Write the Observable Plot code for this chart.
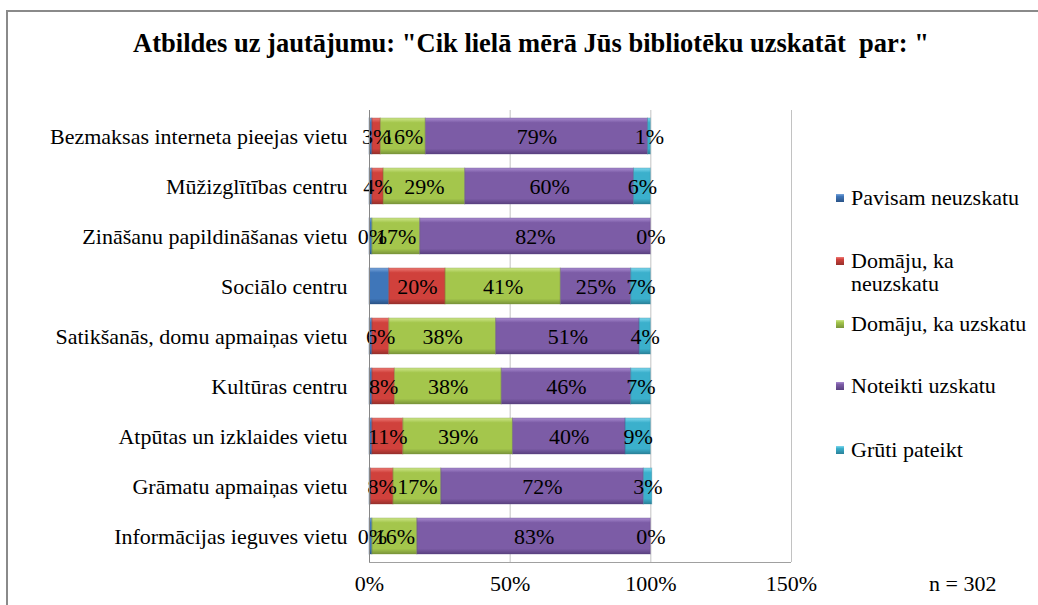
<!DOCTYPE html>
<html>
<head>
<meta charset="utf-8">
<script src="https://cdn.jsdelivr.net/npm/d3@7"></script>
<script src="https://cdn.jsdelivr.net/npm/@observablehq/plot@0.6"></script>
<style>
  html, body { margin: 0; padding: 0; background: #fff; overflow: hidden; width: 1038px; height: 605px; }
  body { font-family: "Liberation Serif", "Times New Roman", serif; color: #000; position: relative; }
  #frame { position: absolute; left: 6px; top: 10px; width: 1200px; height: 800px;
           border-top: 2px solid #8a8a8a; border-left: 2px solid #8a8a8a; }
  #title { position: absolute; left: 0; width: 1062px; top: 27px; text-align: center;
           font-size: 26.5px; line-height: 32px; font-weight: bold; white-space: pre; }
  #chart { position: absolute; left: 0; top: 80px; }
  #legend { position: absolute; left: 836px; top: 0; }
  .li { position: absolute; left: 0; width: 202px; font-size: 22px; line-height: 23px; }
  .sw { position: absolute; left: 0; top: 8px; width: 8px; height: 8px; }
  .lt { position: absolute; left: 15px; width: 187px; }
  #n { position: absolute; left: 929px; top: 572px; font-size: 22px; line-height: 24px; }
</style>
</head>
<body>
<div id="frame"></div>
<div id="title">Atbildes uz jautājumu: "Cik lielā mērā Jūs bibliotēku uzskatāt  par: "</div>
<div id="chart"></div>
<div id="legend"></div>
<div id="n">n = 302</div>
<script>
const categories = [
  "Bezmaksas interneta pieejas vietu",
  "Mūžizglītības centru",
  "Zināšanu papildināšanas vietu",
  "Sociālo centru",
  "Satikšanās, domu apmaiņas vietu",
  "Kultūras centru",
  "Atpūtas un izklaides vietu",
  "Grāmatu apmaiņas vietu",
  "Informācijas ieguves vietu"
];
const seriesNames = ["Pavisam neuzskatu", "Domāju, ka neuzskatu", "Domāju, ka uzskatu", "Noteikti uzskatu", "Grūti pateikt"];
const pavisamNeuzskatu   = [1, 1, 1, 7, 1, 1, 1, 0.5, 1];
const domajuNeuzskatu    = [3, 4, 0, 20, 6, 8, 11, 8, 0];
const domajuUzskatu      = [16, 29, 17, 41, 38, 38, 39, 17, 16];
const noteiktiUzskatu    = [79, 60, 82, 25, 51, 46, 40, 72, 83];
const grutiPateikt       = [1, 6, 0, 7, 4, 7, 9, 3, 0];
const xTicks = [0, 50, 100, 150];
const seriesValues = [pavisamNeuzskatu, domajuNeuzskatu, domajuUzskatu, noteiktiUzskatu, grutiPateikt];
const colors = ["#3f76b9", "#d0413c", "#a4c64c", "#7c5ca6", "#3bb0cc"];
const lights = ["#7ba6dc", "#ee7b76", "#cde68a", "#a88ad0", "#7fd8ee"];
const darks  = ["#2a5387", "#96302c", "#79943a", "#5a4180", "#2a8199"];
const gradIds = seriesNames.map((_, i) => "g" + i);

const data = [];
categories.forEach((c, ci) => {
  seriesNames.forEach((s, si) => {
    data.push({cat: c, series: s, si, value: seriesValues[si][ci]});
  });
});

const W = 1038, H = 525;
const plot = Plot.plot({
  width: W, height: H,
  marginLeft: 369, marginRight: 247, marginTop: 30, marginBottom: 43,
  style: {fontFamily: '"Liberation Serif", "Times New Roman", serif', fontSize: "22px", color: "#000", background: "transparent"},
  x: {domain: [0, 150], ticks: xTicks, tickFormat: d => d + "%", tickSize: 0, tickPadding: 13, label: null},
  y: {domain: categories, paddingInner: 0.28, paddingOuter: 0.14, tickSize: 0, tickPadding: 22, label: null},
  color: {domain: seriesNames, range: gradIds.map(id => `url(#${id})`)},
  marks: [
    Plot.ruleX([50, 100, 150], {stroke: "#c2c2c2", strokeWidth: 1}),
    Plot.barX(data, Plot.stackX({x: "value", y: "cat", fill: "series", z: "series", order: seriesNames, inset: 0})),
    Plot.barX(data, Plot.stackX({x: "value", y: "cat", z: "series", order: seriesNames, fill: "none", stroke: d => darks[d.si], strokeOpacity: 0.35, strokeWidth: 1})),
    Plot.text(data, Plot.stackX({x: "value", y: "cat", z: "series", order: seriesNames,
      text: d => d.si === 0 ? null : d.value + "%", fill: "#000", fontSize: 22})),
    Plot.ruleX([0], {stroke: "#868686", strokeWidth: 1})
  ]
});

// gradients for bevel-like look
const svg = d3.select(plot);
const defs = svg.insert("defs", ":first-child");
seriesNames.forEach((s, i) => {
  const g = defs.append("linearGradient").attr("id", gradIds[i]).attr("x1", 0).attr("y1", 0).attr("x2", 0).attr("y2", 1);
  g.append("stop").attr("offset", "0").attr("stop-color", lights[i]);
  g.append("stop").attr("offset", "0.13").attr("stop-color", colors[i]);
  g.append("stop").attr("offset", "0.85").attr("stop-color", colors[i]);
  g.append("stop").attr("offset", "1").attr("stop-color", darks[i]);
});
// bottom axis line along the x scale
const xs = plot.scale("x");
svg.append("line")
  .attr("x1", xs.apply(0)).attr("x2", xs.apply(150))
  .attr("y1", H - 43 + 0.5).attr("y2", H - 43 + 0.5)
  .attr("stroke", "#a0a0a0");
document.getElementById("chart").appendChild(plot);

// legend
const legendTops = [186, 249, 312, 374, 438];
const legend = document.getElementById("legend");
seriesNames.forEach((s, i) => {
  const li = document.createElement("div");
  li.className = "li";
  li.style.top = legendTops[i] + "px";
  li.innerHTML = `<div class="sw" style="background:linear-gradient(${lights[i]},${colors[i]} 30%,${darks[i]})"></div><div class="lt"></div>`;
  li.querySelector(".lt").textContent = s;
  legend.appendChild(li);
});
</script>
</body>
</html>
